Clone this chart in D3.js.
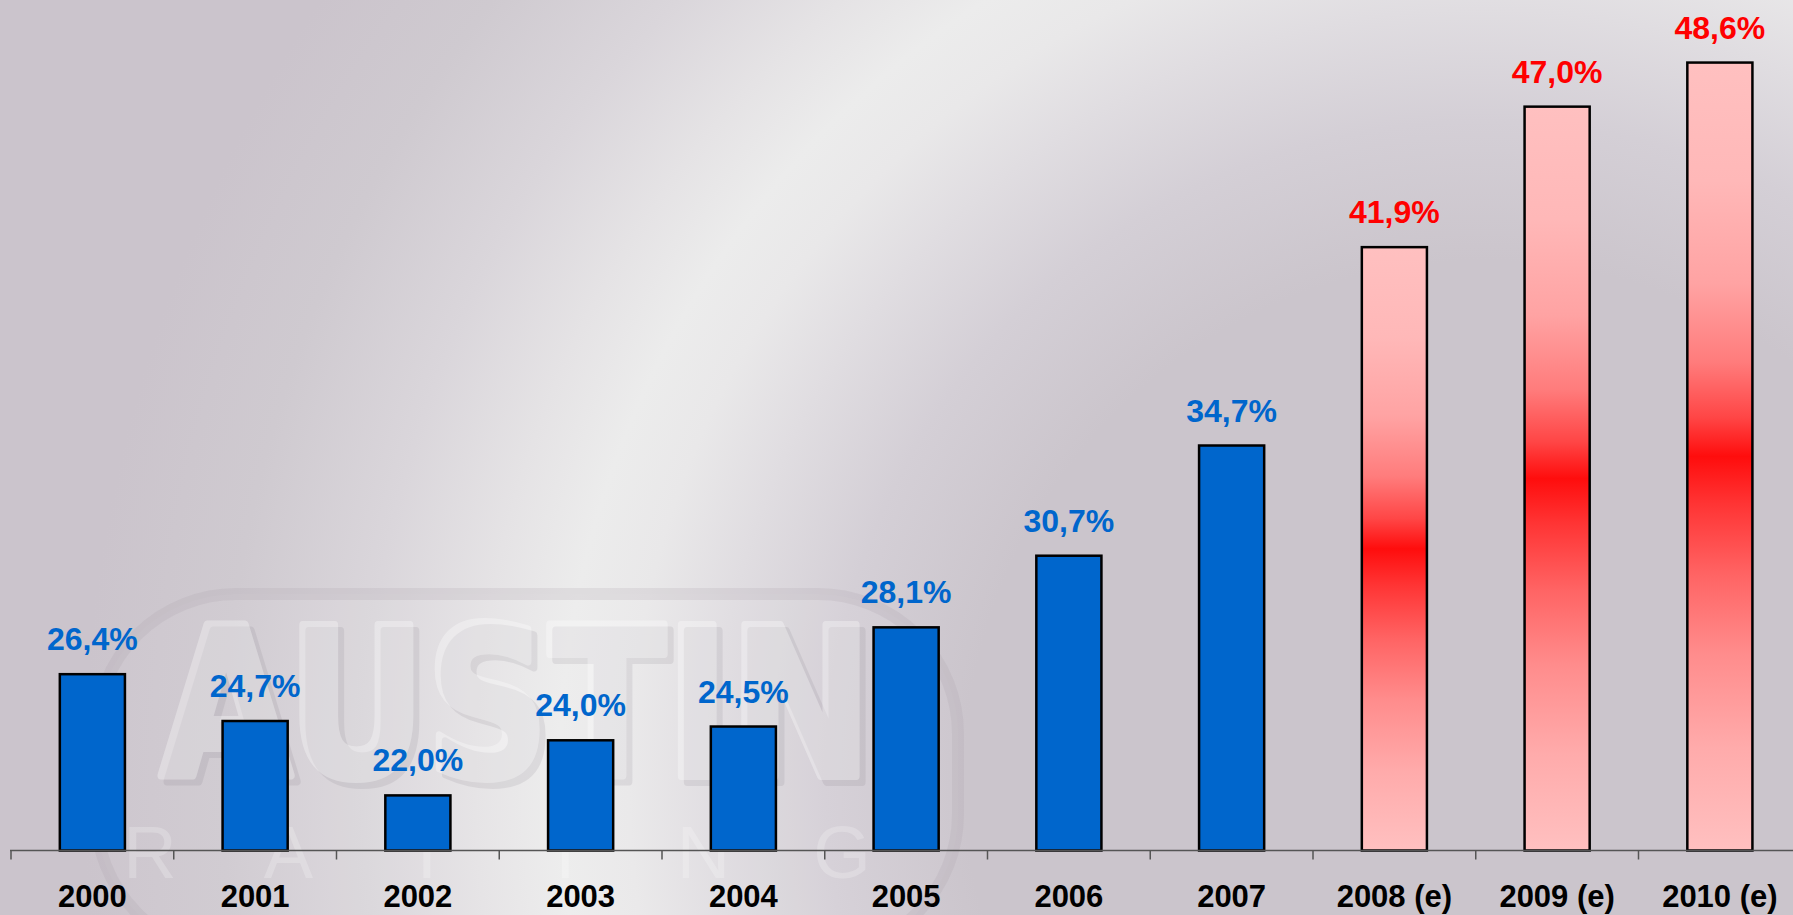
<!DOCTYPE html>
<html>
<head>
<meta charset="utf-8">
<script src="https://cdn.jsdelivr.net/npm/d3@7"></script>
<style>
  html, body { margin: 0; padding: 0; overflow: hidden; background: #cbc5cc; }
  svg { display: block; }
</style>
</head>
<body>
<svg id="chart" width="1793" height="915"></svg>
<script>
// Years and shares (%); the last three are estimates
const categories = ["2000", "2001", "2002", "2003", "2004", "2005", "2006", "2007", "2008 (e)", "2009 (e)", "2010 (e)"];
const values = [26.4, 24.7, 22.0, 24.0, 24.5, 28.1, 30.7, 34.7, 41.9, 47.0, 48.6];
const estimated = [false, false, false, false, false, false, false, false, true, true, true];
const valueLabels = ["26,4%", "24,7%", "22,0%", "24,0%", "24,5%", "28,1%", "30,7%", "34,7%", "41,9%", "47,0%", "48,6%"];
const watermarkWord = "AUSTIN";
const watermarkLetters = ["R", "A", "T", "I", "N", "G"];

const W = 1793, H = 915;
const svg = d3.select("#chart");
const defs = svg.append("defs");

// Background: mauve-grey with a broad curved streak of light (arc of a large circle)
const bg = defs.append("radialGradient")
  .attr("id", "bgGrad")
  .attr("gradientUnits", "userSpaceOnUse")
  .attr("cx", 1483).attr("cy", 779).attr("r", 1400)
  .attr("fx", 1483).attr("fy", 779);
[
  [0.00, "#cbc5cc"], [0.37, "#cbc5cc"], [0.47, "#d4cfd6"], [0.55, "#e0dde1"],
  [0.61, "#e9e8e9"], [0.66, "#ececec"], [0.72, "#e5e3e5"], [0.80, "#dad6db"],
  [0.90, "#cfcad0"], [1.00, "#cbc4cc"]
].forEach(([o, c]) => bg.append("stop").attr("offset", o).attr("stop-color", c));

svg.append("rect").attr("width", W).attr("height", H).attr("fill", "url(#bgGrad)");

// Vertical gradient for estimate bars: pink at both ends, red in the middle
const redGrad = defs.append("linearGradient")
  .attr("id", "redGrad").attr("x1", 0).attr("y1", 0).attr("x2", 0).attr("y2", 1);
[
  [0.00, "#ffc0c0"], [0.15, "#ffb8b8"], [0.28, "#ffa3a3"], [0.38, "#ff7c7c"],
  [0.45, "#ff4646"], [0.50, "#ff0d0d"], [0.56, "#ff3434"], [0.65, "#ff6464"],
  [0.75, "#ff8c8c"], [0.87, "#ffabab"], [1.00, "#ffc0c0"]
].forEach(([o, c]) => redGrad.append("stop").attr("offset", o).attr("stop-color", c));

// Faint logo watermark behind the bars
const wm = svg.append("g").attr("class", "watermark");
wm.append("rect")
  .attr("x", 96).attr("y", 594).attr("width", 862).attr("height", 360).attr("rx", 140)
  .attr("fill", "#ffffff").attr("fill-opacity", 0.05)
  .attr("stroke", "#a9a2ab").attr("stroke-opacity", 0.2).attr("stroke-width", 12);
// soft shadow under the logo word
wm.append("g").attr("opacity", 0.12)
  .append("text")
  .attr("x", 166).attr("y", 782)
  .attr("textLength", 712).attr("lengthAdjust", "spacingAndGlyphs")
  .attr("font-family", "DejaVu Sans, Liberation Sans, Arial, sans-serif").attr("font-weight", "bold")
  .attr("font-size", 206)
  .attr("fill", "#6f6874").attr("stroke", "#6f6874").attr("stroke-width", 8)
  .attr("stroke-linejoin", "round")
  .text(watermarkWord);
wm.append("g").attr("opacity", 0.32)
  .append("text")
  .attr("x", 160).attr("y", 776)
  .attr("textLength", 712).attr("lengthAdjust", "spacingAndGlyphs")
  .attr("font-family", "DejaVu Sans, Liberation Sans, Arial, sans-serif").attr("font-weight", "bold")
  .attr("font-size", 206)
  .attr("fill", "#ffffff").attr("stroke", "#ffffff").attr("stroke-width", 8)
  .attr("stroke-linejoin", "round")
  .text(watermarkWord);
const letterX = d3.scalePoint().domain(d3.range(watermarkLetters.length)).range([150, 842]);
wm.selectAll("text.wmLetter").data(watermarkLetters).join("text")
  .attr("class", "wmLetter")
  .attr("x", (d, i) => letterX(i)).attr("y", 878)
  .attr("text-anchor", "middle")
  .attr("font-family", "Liberation Sans, Arial, sans-serif")
  .attr("font-size", 74)
  .attr("fill", "#ffffff").attr("fill-opacity", 0.22)
  .text(d => d);

// Scales
const step = 162.75, x0 = 11;
const x = d3.scaleBand()
  .domain(categories)
  .range([x0, x0 + step * categories.length])
  .paddingInner(0.6).paddingOuter(0.3);
const y = d3.scaleLinear().domain([20, 51]).range([850.5, 850.5 - 31 * 27.55]);

// Bars
svg.append("g").selectAll("rect").data(values).join("rect")
  .attr("x", (d, i) => x(categories[i]))
  .attr("width", x.bandwidth())
  .attr("y", d => y(d))
  .attr("height", d => y(20) - y(d))
  .attr("fill", (d, i) => estimated[i] ? "url(#redGrad)" : "#0066cc")
  .attr("stroke", "#000").attr("stroke-width", 2.5);

// Axis: baseline and category labels
const axis = svg.append("g")
  .attr("transform", `translate(0,${y(20)})`)
  .call(d3.axisBottom(x).tickSize(0).tickSizeOuter(0).tickPadding(34));
axis.select(".domain").attr("stroke", "#555").attr("stroke-width", 1.5)
  .attr("d", `M${x0 - 1},0H${W}`);
axis.selectAll(".tick text")
  .attr("font-family", "Liberation Sans, Arial, sans-serif")
  .attr("font-weight", "bold").attr("font-size", 31).attr("fill", "#000");

// Tick marks between categories
axis.selectAll("line.sep").data(d3.range(categories.length + 1)).join("line")
  .attr("class", "sep")
  .attr("x1", i => x0 + i * x.step()).attr("x2", i => x0 + i * x.step())
  .attr("y1", 0).attr("y2", 9)
  .attr("stroke", "#555").attr("stroke-width", 1.5);

// Value labels above bars
svg.append("g").selectAll("text").data(values).join("text")
  .attr("x", (d, i) => x(categories[i]) + x.bandwidth() / 2)
  .attr("y", d => y(d) - 24)
  .attr("text-anchor", "middle")
  .attr("font-family", "Liberation Sans, Arial, sans-serif")
  .attr("font-weight", "bold").attr("font-size", 32)
  .attr("fill", (d, i) => estimated[i] ? "#ff0000" : "#0066cc")
  .text((d, i) => valueLabels[i]);
</script>
</body>
</html>
